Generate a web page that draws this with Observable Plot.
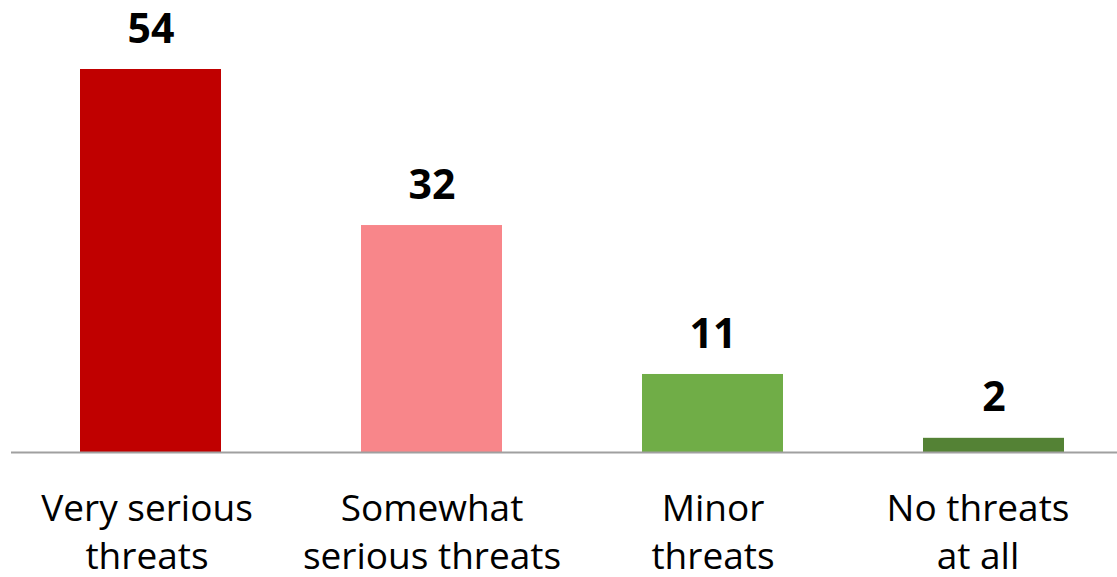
<!DOCTYPE html>
<html>
<head>
<meta charset="utf-8">
<script src="https://cdn.jsdelivr.net/npm/d3@7"></script>
<script src="https://cdn.jsdelivr.net/npm/@observablehq/plot@0.6"></script>
<style>
  html, body { margin: 0; padding: 0; background: #fff; }
  svg { display: block; }
</style>
</head>
<body>
<div id="chart"></div>
<script>
const categories = ["Very serious\nthreats", "Somewhat\nserious threats", "Minor\nthreats", "No threats\nat all"];
const values = [54, 32, 11, 2];
const colors = ["#C00000", "#F8868A", "#70AD47", "#548235"];

const data = categories.map((c, i) => ({category: c, value: values[i], color: colors[i], i}));
const font = "'Open Sans', sans-serif";

const labelOpts = {x: "category", y: () => 0, text: "category", dy: 34, lineAnchor: "top", lineHeight: 1.31, fontSize: 37, fill: "#000"};

const chart = Plot.plot({
  width: 1117,
  height: 577,
  marginLeft: 11,
  marginRight: 0,
  marginTop: 0,
  marginBottom: 0,
  style: {fontFamily: font, background: "#fff"},
  x: {domain: categories, range: [10.5, 1134.5], paddingInner: 0.498, paddingOuter: 0.249, axis: null},
  y: {domain: [0, 54], range: [452, 69], axis: null},
  marks: [
    Plot.barY(data, {x: "category", y: "value", fill: "color"}),
    Plot.ruleY([0], {stroke: "#a0a0a0", strokeWidth: 2}),
    Plot.text(data, {x: "category", y: "value", text: d => String(d.value), dy: -40, fontSize: 41, fontWeight: "bold", fill: "#000"}),
    Plot.text(data.filter(d => d.i === 0), {...labelOpts, dx: -4}),
    Plot.text(data.filter(d => d.i === 1 || d.i === 2), labelOpts),
    Plot.text(data.filter(d => d.i === 3), {...labelOpts, dx: -16})
  ]
});
document.getElementById("chart").appendChild(chart);
</script>
</body>
</html>
